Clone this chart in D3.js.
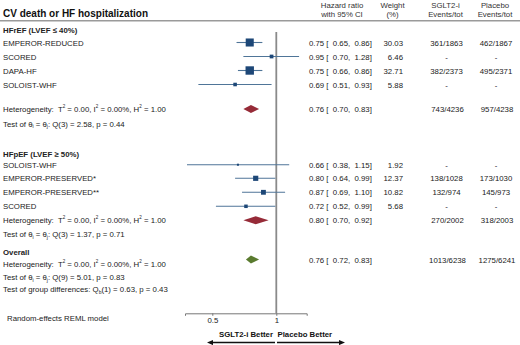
<!DOCTYPE html>
<html>
<head>
<meta charset="utf-8">
<script src="https://cdn.jsdelivr.net/npm/d3@7"></script>
<style>
  body { margin: 0; background: #fff; }
  svg { display: block; font-family: "Liberation Sans", Arial, sans-serif; }
</style>
</head>
<body>
<div class="canvas"></div>
<script>
// study level data (values as drawn in the plot)
const studies = ["EMPEROR-REDUCED", "SCORED", "DAPA-HF", "SOLOIST-WHF",
                 "SOLOIST-WHF", "EMPEROR-PRESERVED*", "EMPEROR-PRESERVED**", "SCORED"];
const hr = [0.75, 0.95, 0.75, 0.64, 0.66, 0.80, 0.87, 0.72];
const lo = [0.65, 0.70, 0.66, 0.43, 0.38, 0.64, 0.69, 0.52];
const hi = [0.86, 1.28, 0.86, 0.95, 1.15, 0.99, 1.10, 0.99];
const ciText = ["0.75 [  0.65,  0.86]", "0.95 [  0.70,  1.28]", "0.75 [  0.66,  0.86]", "0.69 [  0.51,  0.93]",
                "0.66 [  0.38,  1.15]", "0.80 [  0.64,  0.99]", "0.87 [  0.69,  1.10]", "0.72 [  0.52,  0.99]"];
const weight = [30.03, 6.46, 32.71, 5.88, 1.92, 12.37, 10.82, 5.68];
const sgltEvents = ["361/1863", "-", "382/2373", "-", "-", "138/1028", "132/974", "-"];
const placeboEvents = ["462/1867", "-", "495/2371", "-", "-", "173/1030", "145/973", "-"];

// pooled estimates
const pooledName = ["HFrEF", "HFpEF", "Overall"];
const pooledHr = [0.76, 0.80, 0.76];
const pooledLo = [0.70, 0.70, 0.72];
const pooledHi = [0.83, 0.92, 0.83];
const pooledText = ["0.76 [  0.70,  0.83]", "0.80 [  0.70,  0.92]", "0.76 [  0.72,  0.83]"];
const pooledSglt = ["743/4236", "270/2002", "1013/6238"];
const pooledPlacebo = ["957/4238", "318/2003", "1275/6241"];

const tickValues = [0.5, 1];

const width = 520, height = 345;
const textColor = "#222";

// row units -> pixels
const y = d3.scaleLinear().domain([0, 1]).range([42.5, 56.5]);
const studyRow = [0, 1, 2, 3, 8.73, 9.7, 10.7, 11.7];
const pooledRow = [4.75, 12.7, 15.5];

const x = d3.scaleLog().domain([0.372, 1.39]).range([185, 306.7]);
const boxSize = d3.scaleSqrt().domain([0, 32.71]).range([0, 8.4]);

const svg = d3.select(".canvas").append("svg")
  .attr("width", width).attr("height", height)
  .attr("viewBox", [0, 0, width, height]);

// title + rule
svg.append("text").attr("x", 3).attr("y", 16.5)
  .attr("font-size", 10).attr("font-weight", "bold").attr("fill", "#111")
  .text("CV death or HF hospitalization");
svg.append("line").attr("x1", 0).attr("x2", width).attr("y1", 20.8).attr("y2", 20.8)
  .attr("stroke", "#9a9a9a").attr("stroke-width", 1.4);

// column headers
const headers = [
  { x: 342, l1: "Hazard ratio", l2: "with 95% CI" },
  { x: 392.5, l1: "Weight", l2: "(%)" },
  { x: 445.5, l1: "SGLT2-i", l2: "Events/tot" },
  { x: 495, l1: "Placebo", l2: "Events/tot" }
];
const hdr = svg.append("g").attr("font-size", 7.8).attr("fill", "#333").attr("text-anchor", "middle");
hdr.selectAll("text.l1").data(headers).join("text").attr("class", "l1")
  .attr("x", d => d.x).attr("y", 7.5).text(d => d.l1);
hdr.selectAll("text.l2").data(headers).join("text").attr("class", "l2")
  .attr("x", d => d.x).attr("y", 17).text(d => d.l2);

// reference line at HR = 1
svg.append("line").attr("x1", x(1)).attr("x2", x(1)).attr("y1", 32).attr("y2", 313.3)
  .attr("stroke", "#8a8a8a").attr("stroke-width", 1.8);

// left column text
const body = svg.append("g").attr("font-size", 7.8).attr("fill", textColor);
function line(yv, parts, bold) {
  const t = body.append("text").attr("x", 3).attr("y", yv + 3)
    .attr("font-weight", bold ? "bold" : null).style("white-space", "pre");
  let back = 0;
  parts.forEach(p => {
    if (typeof p === "string") {
      t.append("tspan").attr("dy", back || null).text(p);
      back = 0;
    } else if (p.sup) {
      t.append("tspan").attr("font-size", 4.5).attr("dy", -4.5).text(p.sup);
      back = 4.5;
    } else if (p.sub) {
      t.append("tspan").attr("font-size", 5).attr("dy", 1.5).text(p.sub);
      back = -1.5;
    }
  });
  return t;
}
const het = ["Heterogeneity:  T", { sup: "2" }, " = 0.00, I", { sup: "2" }, " = 0.00%, H", { sup: "2" }, " = 1.00"];

line(29.5, ["HFrEF (LVEF \u2264 40%)"], true);
line(y(pooledRow[0]), het);
line(123.5, ["Test of \u03b8", { sub: "i" }, " = \u03b8", { sub: "j" }, ": Q(3) = 2.58, p = 0.44"]);
line(154.3, ["HFpEF (LVEF \u2265 50%)"], true);
line(y(pooledRow[1]), het);
line(234.3, ["Test of \u03b8", { sub: "i" }, " = \u03b8", { sub: "j" }, ": Q(3) = 1.37, p = 0.71"]);
line(252, ["Overall"], true);
line(264.3, het);
line(277.3, ["Test of \u03b8", { sub: "i" }, " = \u03b8", { sub: "j" }, ": Q(9) = 5.01, p = 0.83"]);
line(289, ["Test of group differences: Q", { sub: "b" }, "(1) = 0.63, p = 0.43"]);
body.append("text").attr("x", 7).attr("y", 321).text("Random-effects REML model");

// study rows
body.selectAll("text.study").data(studies).join("text").attr("class", "study")
  .attr("x", 3).attr("y", (d, i) => y(studyRow[i]) + 3).text(d => d);

const cols = svg.append("g").attr("font-size", 7.8).attr("fill", textColor);
const rows = studies.map((d, i) => i);
cols.selectAll("text.ci").data(rows).join("text").attr("class", "ci")
  .attr("x", 309).attr("y", i => y(studyRow[i]) + 3).style("white-space", "pre").text(i => ciText[i]);
cols.selectAll("text.w").data(rows).join("text").attr("class", "w")
  .attr("x", 403).attr("text-anchor", "end").attr("y", i => y(studyRow[i]) + 3).text(i => weight[i].toFixed(2));
cols.selectAll("text.s").data(rows).join("text").attr("class", "s")
  .attr("x", 446.5).attr("text-anchor", "middle").attr("y", i => y(studyRow[i]) + 3).text(i => sgltEvents[i]);
cols.selectAll("text.p").data(rows).join("text").attr("class", "p")
  .attr("x", 496).attr("text-anchor", "middle").attr("y", i => y(studyRow[i]) + 3).text(i => placeboEvents[i]);

const pRows = pooledName.map((d, i) => i);
cols.selectAll("text.pci").data(pRows).join("text").attr("class", "pci")
  .attr("x", 309).attr("y", i => y(pooledRow[i]) + 3).style("white-space", "pre").text(i => pooledText[i]);
cols.selectAll("text.ps").data(pRows).join("text").attr("class", "ps")
  .attr("x", 447.5).attr("text-anchor", "middle").attr("y", i => y(pooledRow[i]) + 3).text(i => pooledSglt[i]);
cols.selectAll("text.pp").data(pRows).join("text").attr("class", "pp")
  .attr("x", 497).attr("text-anchor", "middle").attr("y", i => y(pooledRow[i]) + 3).text(i => pooledPlacebo[i]);

// CI whiskers and boxes
const marks = svg.append("g");
marks.selectAll("line.ci").data(rows).join("line").attr("class", "ci")
  .attr("x1", i => x(lo[i])).attr("x2", i => x(hi[i]))
  .attr("y1", i => y(studyRow[i])).attr("y2", i => y(studyRow[i]))
  .attr("stroke", "#4f7598").attr("stroke-width", 1.1);
marks.selectAll("rect").data(rows).join("rect")
  .attr("x", i => x(hr[i]) - boxSize(weight[i]) / 2)
  .attr("y", i => y(studyRow[i]) - boxSize(weight[i]) / 2)
  .attr("width", i => boxSize(weight[i]))
  .attr("height", i => boxSize(weight[i]))
  .attr("fill", "#1d4777");

// pooled diamonds
const diamondColor = ["#962b38", "#962b38", "#5a7b2f"];
marks.selectAll("path.diamond").data(pRows).join("path").attr("class", "diamond")
  .attr("d", i => {
    const cy = y(pooledRow[i]);
    return `M${x(pooledLo[i])},${cy}L${x(pooledHr[i])},${cy - 4}L${x(pooledHi[i])},${cy}L${x(pooledHr[i])},${cy + 4}Z`;
  })
  .attr("fill", i => diamondColor[i]);

// axis
const axis = svg.append("g").attr("transform", "translate(0,313.3)")
  .call(d3.axisBottom(x).tickValues(tickValues).tickFormat(d3.format("")).tickSizeOuter(0).tickSize(2.5));
axis.select(".domain").attr("stroke", "#777");
axis.selectAll(".tick line").attr("stroke", "#777");
axis.selectAll(".tick text").attr("font-size", 7.8).attr("fill", textColor)
  .attr("font-family", "Liberation Sans, Arial, sans-serif").attr("dy", "0.5em");

// direction labels and arrows
svg.append("text").attr("x", 273).attr("y", 336.5).attr("text-anchor", "end")
  .attr("font-size", 7.8).attr("font-weight", "bold").attr("fill", "#111").text("SGLT2-i Better");
svg.append("text").attr("x", 277.5).attr("y", 336.5)
  .attr("font-size", 7.8).attr("font-weight", "bold").attr("fill", "#111").text("Placebo Better");
const arrowY = 342.5;
svg.append("line").attr("x1", 212).attr("x2", 275).attr("y1", arrowY).attr("y2", arrowY)
  .attr("stroke", "#111").attr("stroke-width", 1.4);
svg.append("path").attr("d", `M207,${arrowY}L213,${arrowY - 2.6}L213,${arrowY + 2.6}Z`).attr("fill", "#111");
svg.append("line").attr("x1", 277).attr("x2", 340).attr("y1", arrowY).attr("y2", arrowY)
  .attr("stroke", "#111").attr("stroke-width", 1.4);
svg.append("path").attr("d", `M345,${arrowY}L339,${arrowY - 2.6}L339,${arrowY + 2.6}Z`).attr("fill", "#111");
</script>
</body>
</html>
